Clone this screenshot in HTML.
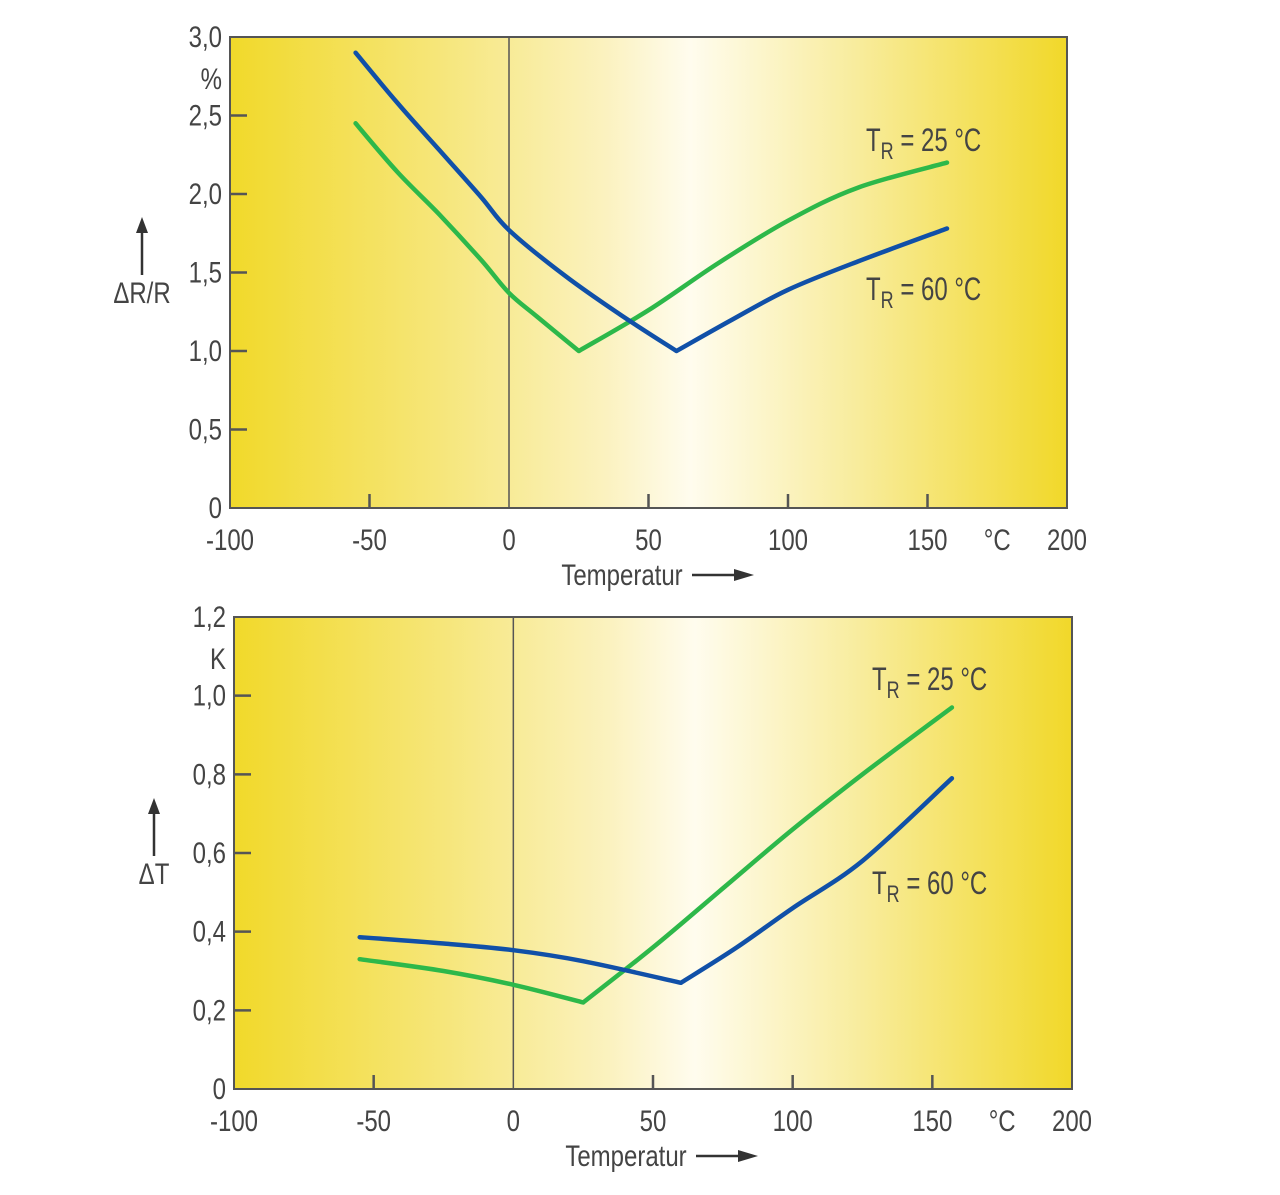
<!DOCTYPE html>
<html><head><meta charset="utf-8"><style>
html,body{margin:0;padding:0;background:#fff;}
svg text{font-family:"Liberation Sans Narrow","Liberation Sans",sans-serif;fill:#444;}
</style></head><body>
<svg id="svg" width="1280" height="1190" xmlns="http://www.w3.org/2000/svg">
<defs>
<linearGradient id="bg" x1="0" x2="1" y1="0" y2="0">
<stop offset="0" stop-color="#f1d92a"/>
<stop offset="0.25" stop-color="#f6e67a"/>
<stop offset="0.45" stop-color="#fbf2c0"/>
<stop offset="0.55" stop-color="#fffcee"/>
<stop offset="0.75" stop-color="#f8ec9c"/>
<stop offset="1" stop-color="#f1d829"/>
</linearGradient>
</defs>
<g id="top"></g>
<g id="bot"></g>
</svg>
<script>
const xTicks=[-100,-50,0,50,100,150,200];
const topYTicks=[0,0.5,1.0,1.5,2.0,2.5,3.0];
const topYLabels=["0","0,5","1,0","1,5","2,0","2,5","3,0"];
const botYTicks=[0,0.2,0.4,0.6,0.8,1.0,1.2];
const botYLabels=["0","0,2","0,4","0,6","0,8","1,0","1,2"];
const topTemps25=[-55,-40,-25,-10,0,10,25,50,75,100,125,157];
const topVals25=[2.45,2.14,1.87,1.58,1.37,1.22,1.0,1.26,1.56,1.83,2.04,2.2];
const topTemps60=[-55,-40,-25,-10,0,20,40,60,80,100,125,157];
const topVals60=[2.9,2.58,2.28,1.98,1.77,1.48,1.23,1.0,1.2,1.39,1.57,1.78];
const botTemps25=[-55,-25,0,25,50,75,100,125,157];
const botVals25=[0.33,0.30,0.265,0.22,0.36,0.51,0.66,0.80,0.97];
const botTemps60=[-55,-25,0,25,60,80,100,125,157];
const botVals60=[0.386,0.37,0.353,0.325,0.27,0.36,0.46,0.58,0.79];
const NS="http://www.w3.org/2000/svg";
function mk(p,t,a){const e=document.createElementNS(NS,t);for(const k in a)e.setAttribute(k,a[k]);p.appendChild(e);return e;}
function txt(p,x,y,s,anchor,size){const t=mk(p,'text',{x:0,y:0,'font-size':size||28,'text-anchor':anchor||'start',transform:`translate(${x},${y}) scale(0.8,1)`});t.textContent=s;return t;}
function smooth(pts){
 let d='M'+pts[0][0].toFixed(1)+' '+pts[0][1].toFixed(1);
 for(let i=0;i<pts.length-1;i++){
  const p0=pts[Math.max(0,i-1)],p1=pts[i],p2=pts[i+1],p3=pts[Math.min(pts.length-1,i+2)];
  const c1=[p1[0]+(p2[0]-p0[0])/6,p1[1]+(p2[1]-p0[1])/6],c2=[p2[0]-(p3[0]-p1[0])/6,p2[1]-(p3[1]-p1[1])/6];
  d+=` C${c1[0].toFixed(1)} ${c1[1].toFixed(1)} ${c2[0].toFixed(1)} ${c2[1].toFixed(1)} ${p2[0].toFixed(1)} ${p2[1].toFixed(1)}`;
 }
 return d;
}
function chart(g,L,R,T,B,yMax,yT,yL,unit,yTitle,tx,series,lab25,lab60){
 const sx=v=>L+(v+100)/300*(R-L), sy=v=>B-v/yMax*(B-T);
 const bgr=mk(g,'rect',{x:L,y:T,width:R-L,height:B-T,fill:'url(#bg)',stroke:'#555','stroke-width':2});
 
 
 mk(g,'line',{x1:sx(0),x2:sx(0),y1:T,y2:B,stroke:'#555','stroke-width':1.5});
 xTicks.forEach(v=>{
  if(v>-100&&v<200&&v!=0) mk(g,'line',{x1:sx(v),x2:sx(v),y1:B,y2:B-14,stroke:'#555','stroke-width':2.5});
  const t=txt(g,sx(v),B+42,String(v),'middle',30);
  
  
 });
 txt(g,sx(175),B+42,'°C','middle',30);
 yT.forEach((v,i)=>{
  if(v>0&&v<yMax) mk(g,'line',{x1:L,x2:L+17,y1:sy(v),y2:sy(v),stroke:'#555','stroke-width':2.5});
  const t=txt(g,L-8,sy(v)+10,yL[i],'end',30);
  
  
 });
 txt(g,L-8,sy(yMax)+52,unit,'end',30);
 const ytx=yTitle.x;
 mk(g,'line',{x1:ytx,x2:ytx,y1:yTitle.y-28,y2:yTitle.y-78,stroke:'#333','stroke-width':2.5});
 mk(g,'path',{d:`M${ytx-6} ${yTitle.y-70} L${ytx} ${yTitle.y-86} L${ytx+6} ${yTitle.y-70} Z`,fill:'#333'});
 const yt=txt(g,ytx,yTitle.y,yTitle.t,'middle',30);
 
 
 const xt=txt(g,tx,B+77,'Temperatur','middle',30);
 
 
 mk(g,'line',{x1:tx+70,x2:tx+118,y1:B+67,y2:B+67,stroke:'#333','stroke-width':2.5});
 mk(g,'path',{d:`M${tx+112} ${B+61} L${tx+132} ${B+67} L${tx+112} ${B+73} Z`,fill:'#333'});
 series.forEach(s=>{
  const pts=s.x.map((v,i)=>[sx(v),sy(s.y[i])]);
  let mi=0;s.y.forEach((v,i)=>{if(v<s.y[mi])mi=i;});
  const d=smooth(pts.slice(0,mi+1))+' '+smooth(pts.slice(mi)).replace(/^M[^C]*/,'');
  const p=mk(g,'path',{d:d,fill:'none',stroke:s.c,'stroke-width':4.5,'stroke-linejoin':'round','stroke-linecap':'round'});
  
  
 });
 [[lab25,'25'],[lab60,'60']].forEach(([p,n])=>{
  const t=mk(g,'text',{x:0,y:0,'font-size':32,transform:`translate(${p[0]},${p[1]}) scale(0.75,1)`});
  t.innerHTML='T<tspan dy="8" font-size="24">R</tspan><tspan dy="-8"> = '+n+' °C</tspan>';
  
  
 });
}
chart(document.getElementById('top'),230,1067,37,508,3.0,topYTicks,topYLabels,'%',{x:142,y:303,t:'ΔR/R'},622,
 [{x:topTemps25,y:topVals25,c:'#2db84a',n:'line-tr25'},{x:topTemps60,y:topVals60,c:'#1050a8',n:'line-tr60'}],[866,151],[866,300]);
chart(document.getElementById('bot'),234,1072,617,1089,1.2,botYTicks,botYLabels,'K',{x:154,y:884,t:'ΔT'},626,
 [{x:botTemps25,y:botVals25,c:'#2db84a',n:'line-tr25'},{x:botTemps60,y:botVals60,c:'#1050a8',n:'line-tr60'}],[872,690],[872,894]);
</script>
</body></html>
